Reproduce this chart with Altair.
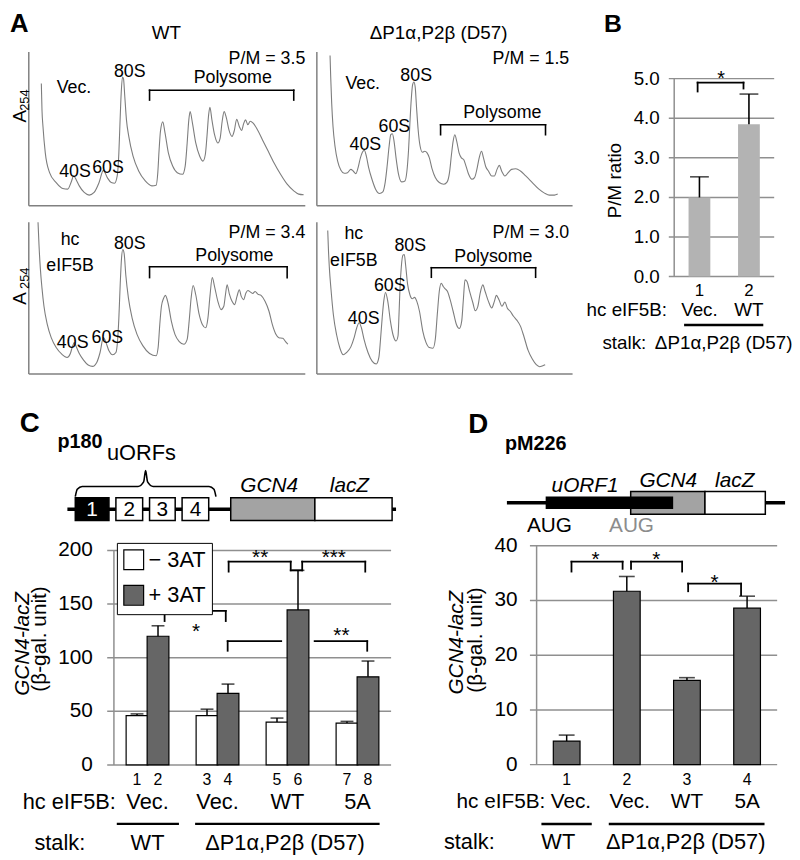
import altair as alt
import pandas as pd

FONT = "Liberation Sans"
W, H = 792, 852
GRID = "#8f8f8f"
FRAME = "#808080"

# ---------------- Panel A: polysome profiles (x = gradient position, y = A254, a.u.)
tl_x = [50, 52, 55, 62, 75, 95, 115, 130, 140, 148, 156, 165, 180, 195, 210, 225, 238, 250, 262, 272, 280, 285, 288, 292, 296, 299, 303, 308, 315, 328, 345, 365, 385, 398, 403, 407, 411, 418, 425, 435, 448, 462, 478, 486, 492, 497, 501, 508, 518, 530, 540, 547, 552, 557, 561, 567, 575, 585, 592, 598, 604, 611, 619, 628, 635, 642, 650, 657, 663, 669, 676, 683, 692, 705, 720, 735, 755, 775, 795, 815, 830, 845]
tl_y = [370, 290, 240, 160, 100, 70, 52, 50, 70, 90, 78, 60, 40, 32, 40, 70, 107, 85, 70, 68, 90, 160, 240, 340, 390, 385, 330, 260, 210, 150, 105, 75, 60, 62, 100, 170, 225, 254, 220, 160, 120, 100, 95, 120, 190, 260, 285, 250, 190, 150, 135, 155, 210, 275, 298, 260, 215, 190, 205, 255, 285, 265, 228, 210, 228, 262, 240, 228, 248, 260, 245, 256, 250, 230, 200, 170, 130, 95, 65, 45, 35, 33]

tr_x = [55, 57, 60, 64, 70, 78, 88, 98, 108, 118, 125, 133, 140, 147, 153, 159, 165, 172, 182, 193, 205, 215, 222, 228, 234, 239, 244, 249, 255, 262, 272, 282, 288, 293, 297, 301, 305, 309, 313, 317, 322, 328, 335, 342, 349, 356, 364, 374, 386, 400, 410, 417, 423, 428, 433, 439, 446, 453, 460, 467, 475, 485, 493, 500, 507, 514, 520, 527, 535, 545, 553, 561, 568, 575, 585, 595, 605, 618, 632, 648, 668, 688, 705, 720, 735, 745]
tr_y = [455, 390, 310, 240, 180, 135, 107, 98, 100, 110, 105, 97, 115, 145, 162, 168, 150, 115, 80, 50, 37, 42, 70, 120, 180, 215, 218, 195, 145, 98, 72, 75, 105, 170, 250, 320, 365, 375, 360, 300, 230, 180, 162, 165, 160, 145, 112, 85, 70, 65, 72, 100, 155, 195, 215, 195, 160, 145, 140, 120, 95, 80, 85, 110, 145, 165, 145, 118, 105, 90, 90, 110, 122, 105, 90, 100, 110, 112, 105, 90, 70, 50, 38, 32, 32, 35]

bl_x = [40, 43, 47, 52, 58, 68, 80, 95, 112, 128, 138, 144, 150, 157, 165, 178, 192, 205, 218, 228, 238, 246, 255, 266, 276, 281, 285, 289, 293, 297, 301, 306, 314, 325, 340, 358, 378, 398, 404, 409, 414, 420, 426, 434, 444, 455, 468, 482, 492, 498, 504, 510, 518, 528, 538, 548, 555, 561, 568, 575, 585, 595, 603, 608, 613, 620, 628, 636, 643, 650, 656, 663, 670, 676, 684, 691, 698, 706, 716, 728, 740, 750, 760, 770, 782, 790, 797]
bl_y = [460, 390, 320, 260, 205, 150, 110, 80, 60, 50, 62, 82, 95, 80, 62, 42, 27, 23, 35, 65, 110, 95, 70, 58, 65, 100, 170, 270, 350, 377, 365, 300, 230, 170, 120, 85, 62, 55, 80, 150, 205, 228, 238, 215, 160, 120, 98, 90, 105, 160, 230, 268, 240, 182, 150, 140, 170, 235, 292, 265, 220, 195, 205, 240, 270, 242, 220, 210, 235, 255, 235, 225, 245, 253, 248, 244, 250, 242, 238, 220, 190, 150, 122, 110, 108, 98, 90]

br_x = [48, 50, 53, 58, 65, 75, 85, 95, 105, 118, 128, 136, 143, 150, 158, 170, 183, 195, 203, 208, 213, 218, 223, 230, 238, 246, 255, 261, 264, 267, 271, 276, 280, 284, 290, 297, 304, 311, 318, 326, 336, 346, 356, 367, 374, 380, 386, 392, 398, 405, 411, 419, 428, 438, 447, 454, 459, 464, 470, 478, 488, 495, 503, 510, 518, 525, 535, 545, 553, 559, 567, 576, 585, 592, 601, 611, 621, 632, 643, 655, 668, 680, 690, 700, 707]
br_y = [435, 380, 320, 255, 180, 118, 78, 58, 65, 82, 110, 140, 155, 140, 105, 65, 38, 30, 50, 105, 170, 222, 247, 220, 160, 118, 100, 115, 180, 260, 325, 360, 362, 330, 272, 240, 228, 232, 220, 190, 130, 95, 80, 78, 105, 180, 250, 275, 265, 257, 250, 225, 190, 150, 138, 160, 225, 285, 280, 250, 215, 192, 205, 245, 270, 250, 220, 200, 220, 238, 225, 205, 218, 200, 190, 175, 163, 145, 112, 72, 45, 28, 22, 25, 28]

pm_ratio_text = ["P/M = 3.5", "P/M = 1.5", "P/M = 3.4", "P/M = 3.0"]

# ---------------- Panel B
b_lane = [1, 2]
b_hc = ["Vec.", "WT"]
b_pm = [2.0, 3.85]
b_err = [0.52, 0.76]
b_ticks = [0, 1, 2, 3, 4, 5]

# ---------------- Panel C
c_group = [1, 2, 3, 4]
c_hc = ["Vec.", "Vec.", "WT", "5A"]
c_minus = [46, 46, 40, 39]
c_minus_err = [1.6, 6.0, 3.7, 1.6]
c_plus = [120, 66.8, 144.6, 82.2]
c_plus_err = [9.8, 8.6, 36.9, 14.7]
c_ticks = [0, 50, 100, 150, 200]
c_conds = ["\u2212 3AT", "+ 3AT"]

# ---------------- Panel D
d_lane = [1, 2, 3, 4]
d_hc = ["Vec.", "Vec.", "WT", "5A"]
d_val = [4.3, 31.7, 15.4, 28.6]
d_err = [1.1, 2.7, 0.5, 2.2]
d_ticks = [0, 10, 20, 30, 40]

STALK_MUT = "\u0394P1\u03b1,P2\u03b2 (D57)"


def sc(dom, rng):
    return alt.Scale(domain=dom, range=rng, nice=False, zero=False)


def txt(rows, sx, sy, size, align="center", weight="normal", style="normal",
        color="black", angle=0, baseline="alphabetic"):
    df = pd.DataFrame(rows, columns=["t", "x", "y"])
    return alt.Chart(df).mark_text(
        font=FONT, fontSize=size, align=align, baseline=baseline,
        fontWeight=weight, fontStyle=style, color=color, angle=angle
    ).encode(
        x=alt.X("x:Q", scale=sx, axis=None),
        y=alt.Y("y:Q", scale=sy, axis=None),
        text="t:N",
    )


def segs(rows, sx, sy, width=1.5, color="black", cap="square"):
    df = pd.DataFrame(rows, columns=["x", "y", "x2", "y2"])
    return alt.Chart(df).mark_rule(color=color, strokeWidth=width, strokeCap=cap).encode(
        x=alt.X("x:Q", scale=sx, axis=None),
        y=alt.Y("y:Q", scale=sy, axis=None),
        x2="x2:Q", y2="y2:Q",
    )


def bracket(xl, xr, ytop, yl, yr):
    return [(xl, yl, xl, ytop), (xl, ytop, xr, ytop), (xr, ytop, xr, yr)]


def yaxis(ticks, fmt, sx, sy, x_axis, x_tick, x_end, x_label, size):
    """Gridlines, axis line and tick labels drawn from the tick list through the panel scales."""
    return [
        segs([(x_tick, t, x_end, t) for t in ticks], sx, sy, width=1.5, color=GRID, cap="butt"),
        segs([(x_axis, ticks[0], x_axis, ticks[-1])], sx, sy, width=1.5, color=GRID, cap="butt"),
        txt([(fmt.format(t), x_label, t) for t in ticks], sx, sy, size, align="right",
            baseline="middle"),
    ]


def trace_panel(xs, ys, xdom, xr, ydom, yr, labels, pm, pm_pos, brk, extra):
    sx = sc(xdom, xr)
    sy = sc(ydom, yr)
    line = alt.Chart(pd.DataFrame({"x": xs, "y": ys})).mark_line(
        color="#7d7d7d", strokeWidth=1.1, interpolate="monotone"
    ).encode(
        x=alt.X("x:Q", scale=sx, axis=None),
        y=alt.Y("y:Q", scale=sy, axis=None),
    )
    frame = segs([(xdom[0], ydom[0], xdom[0], ydom[1]), (xdom[0], ydom[0], xdom[1], ydom[0])],
                  sx, sy, width=1.5, color=FRAME, cap="butt")
    layers = [frame, line,
              txt(labels, sx, sy, 18),
              txt([(pm, pm_pos[0], pm_pos[1])], sx, sy, 18, align="right"),
              segs(bracket(*brk), sx, sy, width=1.6)]
    layers += [f(sx, sy) for f in extra]
    return alt.layer(*layers)


A_TL = trace_panel(
    tl_x, tl_y, [12, 850], [21, 300.33], [0, 466], [195.33, 40],
    [("Vec.", 149, 342), ("80S", 318, 390), ("40S", 152, 88), ("60S", 252, 100), ("Polysome", 630, 372)],
    pm_ratio_text[0], (850, 428), (378, 815, 350, 320, 320),
    [lambda sx, sy: txt([("A", -45, 526)], sx, sy, 26, align="left", weight="bold"),
     lambda sx, sy: txt([("WT", 429, 505)], sx, sy, 19),
     lambda sx, sy: txt([("A", 3, 271)], sx, sy, 19, angle=270),
     lambda sx, sy: txt([("254", 12, 320)], sx, sy, 13, angle=270)],
)
A_TR = trace_panel(
    tr_x, tr_y, [15, 790], [312, 570.33], [0, 466], [195.33, 40],
    [("Vec.", 154, 355), ("80S", 316, 378), ("60S", 250, 222), ("40S", 162, 168), ("Polysome", 577, 265)],
    pm_ratio_text[1], (780, 428), (390, 708, 245, 215, 215),
    [lambda sx, sy: txt([(STALK_MUT, 384, 505)], sx, sy, 19)],
)
A_BL = trace_panel(
    bl_x, bl_y, [12, 850], [21, 300.33], [0, 460], [365.33, 212],
    [("hc", 137, 392), ("eIF5B", 137, 313), ("80S", 318, 380), ("40S", 145, 78), ("60S", 250, 95), ("Polysome", 635, 342)],
    pm_ratio_text[2], (850, 412), (378, 795, 325, 292, 292),
    [lambda sx, sy: txt([("A", 3, 229)], sx, sy, 19, angle=270),
     lambda sx, sy: txt([("254", 12, 290)], sx, sy, 13, angle=270)],
)
A_BR = trace_panel(
    br_x, br_y, [15, 790], [312, 570.33], [0, 460], [365.33, 212],
    [("hc", 127, 410), ("eIF5B", 127, 328), ("80S", 298, 372), ("60S", 236, 250), ("40S", 157, 152), ("Polysome", 550, 340)],
    pm_ratio_text[3], (780, 412), (362, 678, 322, 293, 293),
    [],
)

# ---------------- Panel B chart
sxb = sc([0.49, 2.51], [668, 779])
syb = sc([0, 5], [267, 67])
dfb = pd.DataFrame({"lane": b_lane, "hc": b_hc, "pm": b_pm,
                    "top": [v + e for v, e in zip(b_pm, b_err)]})
B = alt.layer(
    *yaxis(b_ticks, "{:.1f}", sxb, syb, 0.49, 0.381, 2.51, 0.199, 19),
    alt.Chart(dfb).mark_bar(size=22, color="#b3b3b3").encode(
        x=alt.X("lane:Q", scale=sxb, axis=None), y=alt.Y("pm:Q", scale=syb, axis=None)),
    alt.Chart(dfb).mark_rule(color="black", strokeWidth=1.6).encode(
        x=alt.X("lane:Q", scale=sxb, axis=None), y=alt.Y("pm:Q", scale=syb, axis=None), y2="top:Q"),
    alt.Chart(dfb).mark_tick(orient="horizontal", size=19, thickness=1.6, color="black").encode(
        x=alt.X("lane:Q", scale=sxb, axis=None), y=alt.Y("top:Q", scale=syb, axis=None)),
    segs(bracket(0.963, 1.89, 4.9, 4.675, 4.75), sxb, syb, width=1.8),
    txt([("*", 1.435, 4.85)], sxb, syb, 20),
    txt([(str(l), l, -0.5) for l in b_lane], sxb, syb, 17),
    txt([("hc eIF5B:", 0.345, -1.0)], sxb, syb, 19, align="right"),
    txt([(h, l, -1.0) for h, l in zip(b_hc, b_lane)], sxb, syb, 19),
    segs([(0.69, -1.225, 2.29, -1.225)], sxb, syb, width=2.5, cap="butt"),
    txt([("stalk:", -0.074, -1.825)], sxb, syb, 19, align="right"),
    txt([(STALK_MUT, 1.49, -1.825)], sxb, syb, 19),
    txt([("P/M ratio", -0.583, 2.425)], sxb, syb, 19, angle=270),
    txt([("B", -0.928, 6.175)], sxb, syb, 25, align="left", weight="bold"),
)

# ---------------- Panel C chart
sxc = sc([0.52, 4.48], [102, 392])
syc = sc([0, 200], [760.3, 543.7])
rows = []
for g, h, m, me, p, pe in zip(c_group, c_hc, c_minus, c_minus_err, c_plus, c_plus_err):
    rows.append(dict(grp=g, hc=h, cond=c_conds[0], val=m, top=m + me, shift=-0.15))
    rows.append(dict(grp=g, hc=h, cond=c_conds[1], val=p, top=p + pe, shift=0.15))
dfc = pd.DataFrame(rows)
dfc["xpos"] = dfc["grp"] + dfc["shift"]
dfc["lane"] = [str(i) for i in range(1, len(dfc) + 1)]
legend_c = alt.Legend(orient="none", legendX=110, legendY=536, title=None, symbolType="square",
                      symbolSize=400, symbolStrokeColor="black", symbolStrokeWidth=1.2,
                      labelFont=FONT, labelFontSize=22, labelColor="black", labelOffset=4,
                      rowPadding=10, padding=6, strokeColor="black", fillColor="white",
                      labelLimit=200)
XC = alt.X("xpos:Q", scale=sxc, axis=None)
c_brackets = (bracket(2.159, 3.046, 189.6, 180.3, 181.5)
              + bracket(3.21, 4.111, 189.6, 181.5, 180.3)
              + [(3.046, 181.5, 3.21, 181.5)]
              + bracket(1.244, 2.118, 143.7, 134.2, 134.2)
              + [(2.145, 106.5, 2.145, 115.4), (2.145, 115.4, 2.91, 115.4),
                 (3.388, 115.4, 4.139, 115.4), (4.139, 115.4, 4.139, 106.5)])
C = alt.layer(
    *yaxis(c_ticks, "{:d}", sxc, syc, 0.52, 0.424, 4.48, 0.22, 21),
    alt.Chart(dfc).mark_bar(size=22, stroke="black", strokeWidth=1.2).encode(
        x=XC, y=alt.Y("val:Q", scale=syc, axis=None),
        fill=alt.Fill("cond:N", scale=alt.Scale(domain=c_conds, range=["white", "#666666"]),
                      legend=legend_c)),
    alt.Chart(dfc).mark_rule(color="black", strokeWidth=1.5).encode(
        x=XC, y=alt.Y("val:Q", scale=syc, axis=None), y2="top:Q"),
    alt.Chart(dfc).mark_tick(orient="horizontal", size=13, thickness=1.6, color="black").encode(
        x=XC, y=alt.Y("top:Q", scale=syc, axis=None)),
    segs(c_brackets, sxc, syc, width=1.8),
    txt([("*", 1.694, 118.5), ("**", 3.77, 114.8), ("**", 2.609, 187.7), ("***", 3.661, 187.7)],
        sxc, syc, 21),
    alt.Chart(dfc).mark_text(font=FONT, fontSize=16, baseline="alphabetic").encode(
        x=XC, y=alt.Y("yl:Q", scale=syc, axis=None), text="lane:N"
    ).transform_calculate(yl="-19.1"),
    txt([("hc eIF5B:", 0.547, -41.1)], sxc, syc, 22, align="right"),
    txt([(h, g, -41.1) for h, g in zip(c_hc, c_group)], sxc, syc, 22),
    segs([(0.561, -55, 1.449, -55), (1.68, -55, 4.316, -55)], sxc, syc, width=2.5, cap="butt"),
    txt([("stalk:", 0.11, -79.1)], sxc, syc, 22, align="right"),
    txt([("WT", 1.0, -79.1), (STALK_MUT, 2.964, -79.1)], sxc, syc, 22),
    txt([("GCN4-lacZ", -0.695, 112.9)], sxc, syc, 21, style="italic", angle=270),
    txt([("(\u03b2-gal. unit)", -0.45, 117.5)], sxc, syc, 21, angle=270),
)

# ---------------- Panel C construct diagram (schematic units)
sxcd = sc([0, 100], [60, 392])
sycd = sc([-1, 1], [513.5, 490.5])
c_orf = pd.DataFrame({
    "name": ["1", "2", "3", "4", "GCN4", "lacZ"],
    "start": [2.4, 14.76, 25.0, 34.9, 49.7, 75.3],
    "end": [12.65, 22.9, 32.8, 43.0, 75.3, 98.8],
    "fill": ["black", "white", "white", "white", "#a3a3a3", "white"],
    "lo": [-1] * 6, "hi": [1] * 6,
})
brace = pd.DataFrame({
    "x": [2.4, 3.0, 4.5, 21.5, 23.2, 23.8, 24.4, 26.1, 43.1, 44.6, 45.2],
    "y": [1.1, 1.75, 2.0, 2.0, 2.4, 3.4, 2.4, 2.0, 2.0, 1.75, 1.1],
})
CD = alt.layer(
    segs([(0, 0, 100, 0)], sxcd, sycd, width=3.5, cap="butt"),
    alt.Chart(c_orf).mark_rect(stroke="black", strokeWidth=1.5).encode(
        x=alt.X("start:Q", scale=sxcd, axis=None), x2="end:Q",
        y=alt.Y("lo:Q", scale=sycd, axis=None), y2="hi:Q",
        fill=alt.Fill("fill:N", scale=None)),
    txt([("1", 7.5, -0.62)], sxcd, sycd, 21, color="white"),
    txt([("2", 18.8, -0.62), ("3", 28.9, -0.62), ("4", 39.0, -0.62)], sxcd, sycd, 21),
    txt([("GCN4", 61.4, 1.48), ("lacZ", 85.8, 1.48)], sxcd, sycd, 21, style="italic"),
    alt.Chart(brace).mark_line(color="black", strokeWidth=1.6, interpolate="monotone").encode(
        x=alt.X("x:Q", scale=sxcd, axis=None), y=alt.Y("y:Q", scale=sycd, axis=None)),
    txt([("C", -14.46, 6.78)], sxcd, sycd, 28, align="left", weight="bold"),
    txt([("p180", -3.0, 5.39)], sxcd, sycd, 20, align="left", weight="bold"),
    txt([("uORFs", 12.05, 4.35)], sxcd, sycd, 22, align="left"),
)

# ---------------- Panel D chart
sxd = sc([0.5, 4.5], [529, 782])
syd = sc([0, 40], [760, 539])
dfd = pd.DataFrame({"lane": d_lane, "hc": d_hc, "val": d_val,
                    "top": [v + e for v, e in zip(d_val, d_err)]})
XD = alt.X("lane:Q", scale=sxd, axis=None)
D = alt.layer(
    *yaxis(d_ticks, "{:d}", sxd, syd, 0.5, 0.389, 4.5, 0.184, 21),
    alt.Chart(dfd).mark_bar(size=27, color="#666666", stroke="black", strokeWidth=1.2).encode(
        x=XD, y=alt.Y("val:Q", scale=syd, axis=None)),
    alt.Chart(dfd).mark_rule(color="black", strokeWidth=1.5).encode(
        x=XD, y=alt.Y("val:Q", scale=syd, axis=None), y2="top:Q"),
    alt.Chart(dfd).mark_tick(orient="horizontal", size=16, thickness=1.6, color="black").encode(
        x=XD, y=alt.Y("top:Q", scale=syd, axis=None)),
    segs(bracket(1.08, 1.93, 37.1, 35.3, 35.8) + bracket(2.07, 2.92, 37.1, 35.8, 35.3)
         + bracket(3.02, 3.90, 33.1, 31.7, 31.0), sxd, syd, width=1.8),
    txt([("*", 1.48, 36.4), ("*", 2.49, 36.4), ("*", 3.46, 32.2)], sxd, syd, 21),
    txt([(str(l), l, -3.8) for l in d_lane], sxd, syd, 16),
    txt([("hc eIF5B:", 0.645, -7.96)], sxd, syd, 21, align="right"),
    txt([(h, l, -7.96) for h, l in zip(d_hc, [1.07, 2.05, 3.0, 4.0])], sxd, syd, 21),
    segs([(0.58, -10.86, 1.417, -10.86), (1.70, -10.86, 4.29, -10.86)], sxd, syd, width=2.5, cap="butt"),
    txt([("stalk:", -0.196, -15.4)], sxd, syd, 22, align="right"),
    txt([("WT", 0.86, -15.4), (STALK_MUT, 2.98, -15.4)], sxd, syd, 22),
    txt([("GCN4-lacZ", -0.717, 22.3)], sxd, syd, 21, style="italic", angle=270),
    txt([("(\u03b2-gal. unit)", -0.401, 22.8)], sxd, syd, 21, angle=270),
)

# ---------------- Panel D construct diagram (schematic units)
sxdd = sc([0, 100], [504, 785])
sydd = sc([-1, 1], [507, 484])
d_box = pd.DataFrame({
    "start": [44.5, 71.2, 14.2], "end": [71.2, 92.9, 59.5],
    "lo": [-1, -1, -0.48], "hi": [1, 1, 0.48],
    "fill": ["#a3a3a3", "white", "black"],
})
DD = alt.layer(
    segs([(0, 0, 100, 0)], sxdd, sydd, width=3.5, cap="butt"),
    alt.Chart(d_box).mark_rect(stroke="black", strokeWidth=1.5).encode(
        x=alt.X("start:Q", scale=sxdd, axis=None), x2="end:Q",
        y=alt.Y("lo:Q", scale=sydd, axis=None), y2="hi:Q",
        fill=alt.Fill("fill:N", scale=None)),
    txt([("uORF1", 28.1, 0.91), ("GCN4", 58.0, 1.43), ("lacZ", 81.9, 1.43)],
        sxdd, sydd, 21, style="italic"),
    txt([("AUG", 15.3, -2.57)], sxdd, sydd, 21),
    txt([("AUG", 44.8, -2.57)], sxdd, sydd, 21, color="#8c8c8c"),
    txt([("D", -13.88, 6.13)], sxdd, sydd, 28, align="left", weight="bold"),
    txt([("pM226", -0.7, 4.65)], sxdd, sydd, 20, align="left", weight="bold"),
)

chart = alt.layer(A_TL, A_TR, A_BL, A_BR, B, C, CD, D, DD).resolve_scale(
    x="independent", y="independent"
).properties(
    width=W, height=H, autosize=alt.AutoSizeParams(type="none"), padding=0
).configure_view(stroke=None)

chart.save("out.html", embed_options={"renderer": "svg", "actions": False})
